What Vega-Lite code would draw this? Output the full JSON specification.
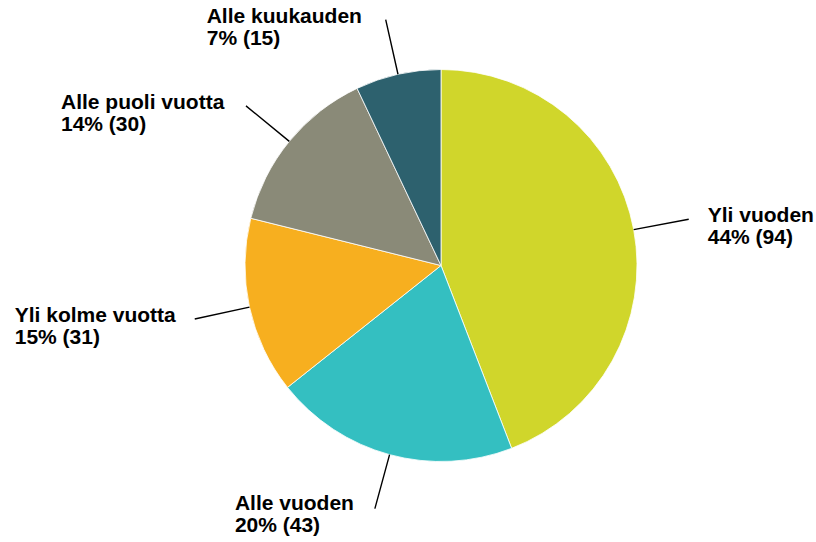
{
  "$schema": "https://vega.github.io/schema/vega-lite/v6.json",
  "autosize": {"type": "none"},
  "width": 750,
  "height": 531,
  "padding": {"left": 66, "top": 0, "right": 0, "bottom": 11},
  "background": "white",
  "config": {
    "view": {"stroke": null},
    "text": {"radius": 252, "align": "left", "baseline": "middle", "dy": -3, "lineBreak": "\n", "lineHeight": 22, "font": "Liberation Sans", "fontSize": 21, "fontWeight": "bold", "color": "#000000"}
  },
  "data": {
    "values": [
      {"rank": 1, "name": "Yli vuoden", "count": 94, "label": "Yli vuoden\n44% (94)"},
      {"rank": 2, "name": "Alle vuoden", "count": 43, "label": "Alle vuoden\n20% (43)"},
      {"rank": 3, "name": "Yli kolme vuotta", "count": 31, "label": "Yli kolme vuotta\n15% (31)"},
      {"rank": 4, "name": "Alle puoli vuotta", "count": 30, "label": "Alle puoli vuotta\n14% (30)"},
      {"rank": 5, "name": "Alle kuukauden", "count": 15, "label": "Alle kuukauden\n7% (15)"}
    ]
  },
  "encoding": {
    "theta": {"field": "count", "type": "quantitative", "stack": true},
    "order": {"field": "rank", "type": "quantitative", "sort": "ascending"}
  },
  "layer": [
    {
      "mark": {"type": "arc", "radius": 196, "stroke": "#ffffff", "strokeWidth": 0.8},
      "encoding": {
        "color": {
          "field": "name",
          "type": "nominal",
          "scale": {
            "domain": ["Yli vuoden", "Alle vuoden", "Yli kolme vuotta", "Alle puoli vuotta", "Alle kuukauden"],
            "range": ["#d0d62b", "#34bfc1", "#f7af1f", "#8a8a78", "#2d616e"]
          },
          "legend": null
        }
      }
    },
    {
      "mark": {"type": "arc", "radius": 252, "radius2": 196, "padAngle": 3, "filled": false, "fill": null, "stroke": "#000000", "strokeWidth": 1.4}
    },
    {
      "mark": {"type": "text", "dx": 19},
      "encoding": {"text": {"condition": {"test": "datum.rank == 1", "field": "label"}, "value": ""}}
    },
    {
      "mark": {"type": "text", "dx": -140, "dy": -5},
      "encoding": {"text": {"condition": {"test": "datum.rank == 2", "field": "label"}, "value": ""}}
    },
    {
      "mark": {"type": "text", "dx": -180},
      "encoding": {"text": {"condition": {"test": "datum.rank == 3", "field": "label"}, "value": ""}}
    },
    {
      "mark": {"type": "text", "dx": -185},
      "encoding": {"text": {"condition": {"test": "datum.rank == 4", "field": "label"}, "value": ""}}
    },
    {
      "mark": {"type": "text", "dx": -179},
      "encoding": {"text": {"condition": {"test": "datum.rank == 5", "field": "label"}, "value": ""}}
    }
  ]
}
